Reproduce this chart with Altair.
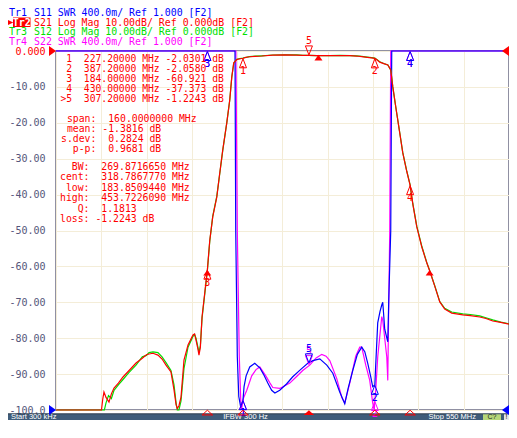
import altair as alt
import pandas as pd

# ---------------- data (frequency in MHz) ----------------
s21_freq = [0.3, 54.0, 55.5, 57.0, 58.5, 61.0, 64.6, 67.5, 70.7, 76.0, 81.6, 89.0, 97.4, 105.0, 110.0,
            113.2, 118.0, 124.0, 129.0, 133.8, 139.8, 143.5, 146.0, 147.5, 149.5, 152.0, 155.6, 160.5,
            166.5, 168.5, 170.2, 172.5, 173.8, 175.5, 177.5, 181.0, 184.0, 186.9, 190.5, 195.4, 199.0,
            202.6, 207.5, 211.1, 213.6, 216.0, 219.6, 223.5, 227.2, 229.6, 235.0, 242.0, 250.0, 263.3,
            278.0, 292.4, 300.0, 307.2, 316.7, 332.5, 345.0, 356.8, 365.0, 371.3, 378.0, 383.4, 387.2,
            390.0, 393.2, 398.0, 403.0, 406.5, 407.7, 409.0, 412.6, 417.4, 421.1, 425.9, 430.0, 433.2,
            438.1, 444.2, 450.2, 453.7, 459.9, 466.0, 472.0, 480.5, 493.9, 503.0, 514.5, 522.0, 530.3,
            540.0, 548.5, 550.0]
s21_db = [-110, -110, -104, -97, -95.0, -96.5, -97.8, -95.5, -93.9, -92.5, -90.8, -89.0, -86.9, -85.6, -84.6,
          -84.4, -84.2, -84.7, -85.8, -87.5, -89.4, -94.4, -98.5, -99.6, -98.8, -96.4, -86.1, -81.9,
          -79.1, -78.8, -80.5, -83.0, -84.7, -82.5, -74.1, -67.0, -60.921, -52.7, -46.2, -40.7, -34.0,
          -27.6, -20.1, -13.7, -7.2, -3.3, -2.4, -2.15, -2.0301, -1.85, -1.6, -1.5, -1.4, -1.15,
          -1.1, -1.15, -1.2, -1.2243, -1.3, -1.3, -1.25, -1.3, -1.4, -1.55, -1.75, -1.9, -2.058,
          -2.5, -3.1, -3.5, -3.9, -5.3, -7.5, -10.0, -15.6, -22.8, -28.4, -33.5, -37.373, -42.5,
          -49.0, -54.6, -59.0, -61.2, -65.5, -69.9, -71.9, -73.0, -73.5, -73.7, -74.1, -74.5, -75.2,
          -75.6, -76.0, -76.1]

s12_freq = [0.3, 54.0, 57.5, 59.0, 61.0, 64.0, 67.5, 70.7, 76.0, 81.6, 89.0, 97.4, 105.0, 110.0,
            113.2, 118.0, 124.0, 129.0, 133.8, 139.8, 143.5, 146.0, 147.5, 149.5, 152.0, 155.6, 160.5,
            166.5, 168.5, 170.2, 172.5, 173.8, 175.5, 177.5, 181.0, 184.0, 186.9, 190.5, 195.4, 199.0,
            202.6, 207.5, 211.1, 213.6, 216.0, 219.6, 223.5, 227.2, 229.6, 235.0, 242.0, 250.0, 263.3,
            278.0, 292.4, 300.0, 307.2, 316.7, 332.5, 345.0, 356.8, 365.0, 371.3, 378.0, 383.4, 387.2,
            390.0, 393.2, 398.0, 403.0, 406.5, 407.7, 409.0, 412.6, 417.4, 421.1, 425.9, 430.0, 433.2,
            438.1, 444.2, 450.2, 453.7, 459.9, 466.0, 472.0, 480.5, 493.9, 503.0, 514.5, 522.0, 530.3,
            540.0, 548.5, 550.0]
s12_db = [-110, -110, -110, -104, -98, -96, -96.8, -94.5, -93.0, -91.5, -89.5, -87.5, -85.2, -84.8,
          -84.0, -83.8, -84.0, -85.2, -86.8, -89.0, -93.0, -98.0, -104, -103, -97.5, -88.5, -82.5,
          -79.5, -79.0, -80.0, -82.5, -84.0, -82.0, -74.5, -67.3, -61.1, -53.0, -46.0, -40.5, -34.2,
          -27.8, -20.0, -13.8, -7.3, -3.4, -2.3, -2.1, -2.0, -1.8, -1.55, -1.45, -1.35, -1.12,
          -1.05, -1.1, -1.2, -1.22, -1.28, -1.3, -1.24, -1.3, -1.38, -1.5, -1.7, -1.85, -2.0,
          -2.45, -3.0, -3.5, -3.9, -5.3, -7.5, -10.0, -15.6, -22.7, -28.3, -33.4, -37.3, -42.4,
          -48.8, -54.4, -58.9, -61.1, -65.4, -69.8, -71.7, -72.7, -73.2, -73.4, -73.8, -74.3, -74.9,
          -75.5, -75.9, -76.0]

s11_freq = [0.3, 216.6, 217.5, 218.4, 220.3, 222.1, 224.5, 226.0, 227.2, 228.5, 231.0, 235.4, 241.5,
            247.6, 252.0, 257.3, 262.0, 265.9, 271.8, 280.0, 287.6, 297.0, 305.8, 312.0, 320.4, 328.9,
            336.2, 344.6, 350.7, 355.0, 360.4, 366.0, 371.3, 375.0, 378.6, 382.0, 384.6, 387.2, 388.0,
            390.7, 393.5, 395.6, 396.8, 399.2, 402.9, 404.1, 406.5, 407.7, 408.5, 550.0]
s11_swr = [20, 20, 5.5, 3.0, 1.6, 1.15, 1.03, 1.08, 1.11, 1.26, 1.38, 1.48, 1.52,
           1.47, 1.40, 1.30, 1.22, 1.19, 1.22, 1.29, 1.37, 1.45, 1.52, 1.55, 1.57, 1.50,
           1.41, 1.20, 1.07, 1.25, 1.44, 1.62, 1.70, 1.65, 1.52, 1.38, 1.26, 1.28, 1.45,
           1.97, 2.10, 2.17, 2.20, 1.90, 1.76, 2.23, 3.0, 5.5, 20, 20]

s22_freq = [0.3, 217.8, 218.6, 220.3, 222.7, 224.5, 225.4, 227.2, 228.1, 231.8, 237.8, 243.0, 247.6,
            254.9, 260.0, 263.4, 271.8, 284.0, 292.0, 299.7, 308.2, 316.0, 322.8, 328.0, 332.5, 341.0,
            347.1, 350.7, 356.8, 364.0, 368.9, 371.3, 376.2, 381.0, 384.6, 386.5, 387.2, 388.3, 390.7,
            395.6, 396.8, 401.7, 402.9, 404.1, 405.3, 406.5, 407.5, 550.0]
s22_swr = [20, 20, 5.5, 3.0, 1.6, 1.1, 1.0, 1.11, 1.14, 1.22, 1.38, 1.45, 1.48,
           1.38, 1.30, 1.25, 1.24, 1.30, 1.37, 1.44, 1.50, 1.58, 1.62, 1.60, 1.55, 1.35,
           1.14, 1.08, 1.30, 1.60, 1.70, 1.70, 1.50, 1.33, 1.08, 1.0, 1.10, 1.22, 1.59,
           2.04, 2.0, 1.59, 1.33, 2.19, 3.0, 5.5, 20, 20]

marker_id = ["1", "2", "3", "4", "5"]
marker_freq = [227.2, 387.2, 184.0, 430.0, 307.2]
s21_marker = [-2.0301, -2.0580, -60.921, -37.373, -1.2243]
s11_marker = [1.11, 1.28, 20, 20, 1.52]
s22_marker = [1.11, 1.10, 20, 20, 1.50]

bw_freq = [183.8509440, 318.7867770, 453.7226090]
bw_db = [-61.22, -1.3, -61.22]

x_grid = [0.3, 55.27, 110.24, 165.21, 220.18, 275.15, 330.12, 385.09, 440.06, 495.03, 550.0]
y_grid = [-100, -90, -80, -70, -60, -50, -40, -30, -20, -10, 0]

header_tags = ["Tr1", "Tr2", "Tr3", "Tr4"]
header_texts = ["S11 SWR 400.0m/ Ref 1.000 [F2]",
                "S21 Log Mag 10.00dB/ Ref 0.000dB [F2]",
                "S12 Log Mag 10.00dB/ Ref 0.000dB [F2]",
                "S22 SWR 400.0m/ Ref 1.000 [F2]"]

marker_table = [" 1  227.20000 MHz -2.0301 dB",
                " 2  387.20000 MHz -2.0580 dB",
                " 3  184.00000 MHz -60.921 dB",
                " 4  430.00000 MHz -37.373 dB",
                ">5  307.20000 MHz -1.2243 dB"]
stats_table = [" span:  160.0000000 MHz",
               " mean: -1.3816 dB",
               "s.dev:  0.2824 dB",
               "  p-p:  0.9681 dB"]
bw_table = ["  BW:  269.8716650 MHz",
            "cent:  318.7867770 MHz",
            " low:  183.8509440 MHz",
            "high:  453.7226090 MHz",
            "   Q:  1.1813",
            "loss: -1.2243 dB"]

status_left = "Start 300 kHz"
status_mid = "IFBW 300 Hz"
status_right = "Stop 550 MHz"

# ---------------- style ----------------
RED, GREEN, BLUE, MAGENTA = "#ff0000", "#00e000", "#0000ff", "#ff00ff"
GRID = "#f4edd8"
AXIS_TXT = "#55557a"
MONO = "DejaVu Sans Mono"
W, H = 453, 359

UP = "M0,-1L0.78,1L-0.78,1Z"
DOWN = "M0,1L0.78,-1L-0.78,-1Z"
FLAT_UP = "M-1,0.45L0,-0.45L1,0.45Z"
BW_UP = "M0,-0.7L1,0.7L-1,0.7Z"
RIGHT = "M-0.7,-1L0.7,0L-0.7,1Z"
LEFT = "M0.7,-1L-0.7,0L0.7,1Z"

xscale = alt.Scale(domain=[0.3, 550], nice=False, zero=False)
db_scale = alt.Scale(domain=[-100, 0], nice=False, zero=False, clamp=True)
swr_scale = alt.Scale(domain=[1, 5], nice=False, zero=False, clamp=True)

x_axis = alt.Axis(values=x_grid, grid=True, gridColor=GRID, labels=False, ticks=False,
                  domain=False, title=None)
y_axis = alt.Axis(values=y_grid, grid=True, gridColor=GRID, ticks=False, domain=False, title=None,
                  labelFont=MONO, labelFontSize=10, labelPadding=11,
                  labelColor={"condition": {"test": "datum.value == 0", "value": RED},
                              "value": AXIS_TXT},
                  labelExpr="datum.value == 0 ? '0.000' : (datum.value == -100 ? '-100.0' : "
                            "'-' + format(-datum.value, '.2f'))")


def X(field):
    return alt.X(field, type="quantitative", scale=xscale, axis=x_axis)


def Y(field, scale, axis=None):
    return alt.Y(field, type="quantitative", scale=scale, axis=axis)


def txt(s, x, y, color, size=10.0, font=MONO, align="left", weight="normal"):
    # leading blanks of monospace lines become an x shift (SVG drops them)
    lead = len(s) - len(s.lstrip(" "))
    if font == MONO and align == "left":
        x = x + lead * 0.602 * size
    s = s.strip(" ").replace(" ", "\u00a0")
    return alt.Chart(pd.DataFrame({"t": [s]})).mark_text(
        align=align, baseline="middle", font=font, fontSize=size, color=color, fontWeight=weight
    ).encode(text="t:N", x=alt.value(x), y=alt.value(y))


def box(x1, x2, y1, y2, color):
    return alt.Chart(pd.DataFrame({"a": [0]})).mark_rect(color=color).encode(
        x=alt.value(x1), x2=alt.value(x2), y=alt.value(y1), y2=alt.value(y2))


def trace(freqs, vals, scale, color, axis=None):
    df = pd.DataFrame({"f": freqs, "v": vals})
    return alt.Chart(df).mark_line(color=color, strokeWidth=1.2).encode(
        x=X("f"), y=Y("v", scale, axis))


def markers(vals, scale, color):
    df = pd.DataFrame({"f": marker_freq, "v": vals, "id": marker_id})
    ina = df[df["id"] != "5"]
    act = df[df["id"] == "5"]
    out = []
    for d, shape, toff, loff in [(ina, UP, 5, 13), (act, DOWN, -5, -14)]:
        b = alt.Chart(d)
        out.append(b.mark_point(shape=shape, size=81, filled=False, color=color, opacity=1,
                                strokeWidth=1, yOffset=toff).encode(x=X("f"), y=Y("v", scale)))
        out.append(b.mark_text(font=MONO, fontSize=10, color=color, yOffset=loff,
                               baseline="middle").encode(x=X("f"), y=Y("v", scale), text="id:N"))
    return out


# status bar (drawn first so that marker labels may sit over it)
BAR_TOP, BAR_BOT = 362.5, 369
BAR_MID = (BAR_TOP + BAR_BOT) / 2 + 0.3
layers = []
layers.append(box(-48, W, BAR_TOP, BAR_BOT, "#3f5c7a"))
layers.append(box(-48, W, BAR_TOP, BAR_TOP + 0.8, "#2a3542"))
layers.append(txt(status_left, -45, BAR_MID, "white", 7.5, font="Liberation Sans"))
layers.append(txt(status_mid, 189.5, BAR_MID, "white", 7.5, font="Liberation Sans", align="center"))
layers.append(txt(status_right, 420, BAR_MID, "white", 7.5, font="Liberation Sans", align="right"))
layers.append(box(427, 445, BAR_TOP + 0.8, BAR_BOT, "#b6d77a"))
layers.append(txt("C?", 436, BAR_MID, "#1d2b1d", 7, font="Liberation Sans", align="center"))
layers.append(box(448, 453, BAR_TOP + 0.8, BAR_BOT, "#e6e6e6"))
layers.append(txt("!", 450.5, BAR_MID, "#111111", 7, font="Liberation Sans", align="center"))

# traces (order: Tr4, Tr1, Tr3, Tr2 on top)
layers.append(trace(s22_freq, s22_swr, swr_scale, MAGENTA))
layers.append(trace(s11_freq, s11_swr, swr_scale, BLUE))
layers.append(trace(s12_freq, s12_db, db_scale, GREEN))
layers.append(trace(s21_freq, s21_db, db_scale, RED, y_axis))

# markers
layers += markers(s22_marker, swr_scale, MAGENTA)
layers += markers(s11_marker, swr_scale, BLUE)
layers += markers(s21_marker, db_scale, RED)

# bandwidth search markers (filled)
bw_df = pd.DataFrame({"f": bw_freq, "v": bw_db})
layers.append(alt.Chart(bw_df).mark_point(shape=BW_UP, size=64, filled=True, color=RED, opacity=1,
                                          yOffset=2).encode(x=X("f"), y=Y("v", db_scale)))

# marker indicators under the x axis
IND_Y = H + 2.6
ind_df = pd.DataFrame({"f": marker_freq, "id": marker_id})
layers.append(alt.Chart(ind_df[ind_df["id"] != "5"]).mark_point(
    shape=FLAT_UP, size=110, filled=False, color=RED, opacity=1, strokeWidth=1
).encode(x=X("f"), y=alt.value(IND_Y)))
layers.append(alt.Chart(ind_df[ind_df["id"] == "5"]).mark_point(
    shape=FLAT_UP, size=110, filled=True, color=RED, opacity=1
).encode(x=X("f"), y=alt.value(IND_Y)))

# reference level indicators
ref_db = pd.DataFrame({"v": [0.0]})
ref_swr = pd.DataFrame({"v": [1.0]})
for d, sc, col in [(ref_db, db_scale, RED), (ref_swr, swr_scale, BLUE)]:
    layers.append(alt.Chart(d).mark_point(shape=RIGHT, size=100, filled=True, color=col, opacity=1)
                  .encode(x=alt.value(-3.5), y=Y("v", sc)))
    layers.append(alt.Chart(d).mark_point(shape=LEFT, size=100, filled=True, color=col, opacity=1)
                  .encode(x=alt.value(W - 3.5), y=Y("v", sc)))

# header lines
head_y = [-38, -28.5, -19, -9.5]
head_col = [BLUE, RED, GREEN, MAGENTA]
for i in range(4):
    if i == 1:
        layers.append(alt.Chart(pd.DataFrame({"a": [0]})).mark_point(
            shape="M-1,-1L1,0L-1,1Z", size=30, filled=True, color=RED, opacity=1
        ).encode(x=alt.value(-45.5), y=alt.value(head_y[i])))
        layers.append(box(-43, -25.5, head_y[i] - 5, head_y[i] + 4.5, RED))
        layers.append(txt(header_tags[i], -34.2, head_y[i], "white", 10, align="center", weight="bold"))
    else:
        layers.append(txt(header_tags[i], -47, head_y[i], head_col[i], 10))
    layers.append(txt(header_texts[i], -22, head_y[i], head_col[i], 9.9))

# marker table and statistics
for i, s in enumerate(marker_table):
    layers.append(txt(s, 4.5, 7.5 + 10 * i, RED, 9.7))
for i, s in enumerate(stats_table):
    layers.append(txt(s, 5, 68 + 10.1 * i, RED, 9.8))
for i, s in enumerate(bw_table):
    layers.append(txt(s, 4, 116 + 10.4 * i, RED, 9.8))

chart = alt.layer(*layers).resolve_scale(y="independent").properties(
    width=W, height=H,
    padding={"left": 48, "top": 43, "right": 0, "bottom": 10},
    autosize=alt.AutoSizeParams(type="none"),
    background="white",
).configure_view(stroke="#6c6c84", strokeWidth=1.5)

chart.save("out.html", embed_options={"renderer": "svg", "actions": False})
